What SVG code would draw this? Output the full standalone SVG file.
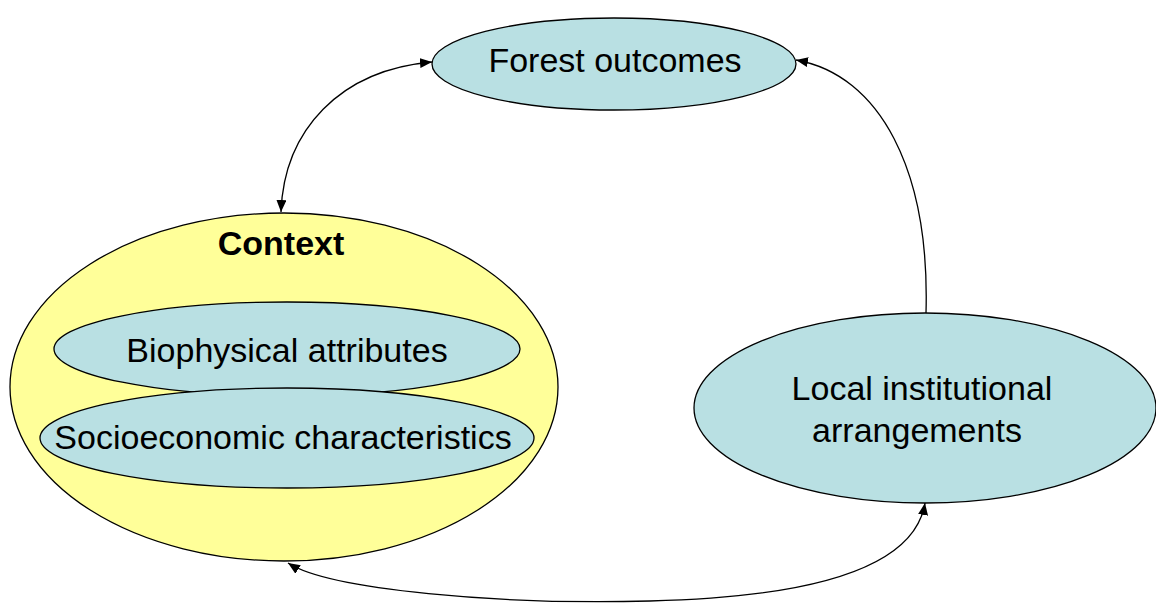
<svg xmlns="http://www.w3.org/2000/svg" width="1156" height="606" viewBox="0 0 1156 606">
<style>
.blue{fill:#b9e0e3;stroke:#000;stroke-width:1.3}
.yel{fill:#ffff99;stroke:#000;stroke-width:1.3}
.t{font-family:"Liberation Sans",Arial,sans-serif;font-size:34px;fill:#000;text-anchor:middle}
.b{font-weight:bold}
.c{fill:none;stroke:#000;stroke-width:1.3}
</style>
<defs>
<marker id="ah" viewBox="0 0 12 10" refX="12" refY="5" markerWidth="12" markerHeight="10" markerUnits="userSpaceOnUse" orient="auto-start-reverse">
<path d="M0,0 L12,5 L0,10 z" fill="#000"/>
</marker>
</defs>
<rect width="1156" height="606" fill="#fff"/>
<g id="context">
<ellipse class="yel" cx="284" cy="387" rx="274" ry="174"/>
<text class="t b" x="281" y="255">Context</text>
</g>
<g id="biophysical">
<ellipse class="blue" cx="287" cy="349" rx="233" ry="47"/>
<text class="t" x="287" y="362">Biophysical attributes</text>
</g>
<g id="socioeconomic">
<ellipse class="blue" cx="287" cy="438" rx="247" ry="50"/>
<text class="t" x="283" y="449">Socioeconomic characteristics</text>
</g>
<g id="forest">
<ellipse class="blue" cx="614" cy="64" rx="182" ry="46"/>
<text class="t" x="615" y="72">Forest outcomes</text>
</g>
<g id="local">
<ellipse class="blue" cx="925" cy="408" rx="231" ry="95"/>
<text class="t" x="922" y="400">Local institutional</text>
<text class="t" x="917" y="442">arrangements</text>
</g>
<g id="connectors">
<path class="c" d="M281,212 C284,130 340,70 432,62" marker-start="url(#ah)" marker-end="url(#ah)"/>
<path class="c" d="M926,313 C930,170 880,75 796,60" marker-end="url(#ah)"/>
<path class="c" d="M288,563 C330,590 500,605 650,601 C820,597 915,565 925,503" marker-start="url(#ah)" marker-end="url(#ah)"/>
</g>
</svg>
